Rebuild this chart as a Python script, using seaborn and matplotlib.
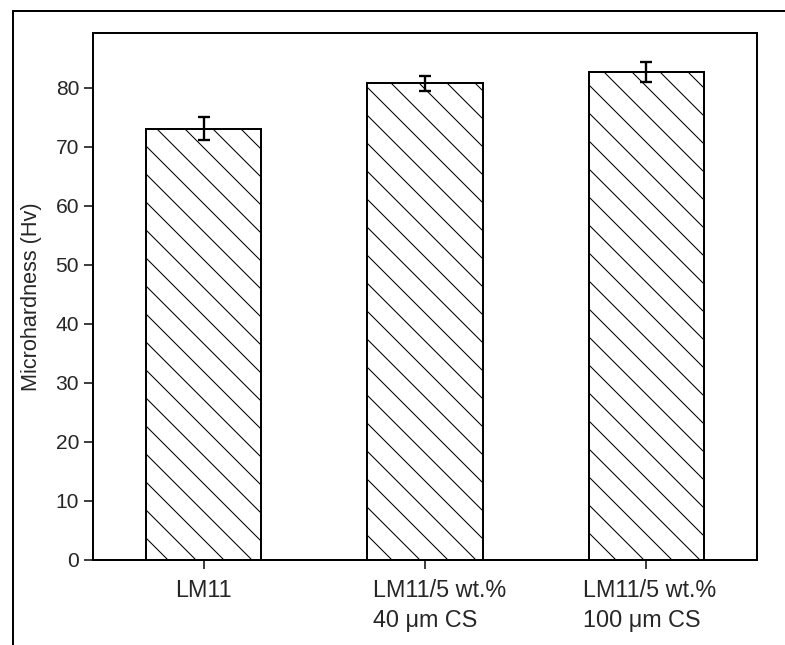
import pandas as pd
import matplotlib.pyplot as plt
import seaborn as sns
from matplotlib.transforms import ScaledTranslation
from matplotlib.lines import Line2D

# data
samples = ['LM11', 'LM11/5 wt.%\n40 \u03bcm CS', 'LM11/5 wt.%\n100 \u03bcm CS']
hardness = [73.1, 80.8, 82.7]
hardness_err = [2.0, 1.3, 1.7]

df = pd.DataFrame({'Sample': samples, 'Hardness': hardness, 'Err': hardness_err})

DPI = 84
sns.set_style('ticks')
plt.rcParams['font.family'] = ['Liberation Sans', 'DejaVu Sans']
plt.rcParams['hatch.linewidth'] = 0.9

fig = plt.figure(figsize=(785 / DPI, 645 / DPI), dpi=DPI)
ax = fig.add_axes([0.1185, 0.1318, 0.8458, 0.817])

sns.barplot(data=df, x='Sample', y='Hardness', ax=ax, color='white', saturation=1,
            edgecolor='black', linewidth=1.7, width=0.52, hatch='\\', errorbar=None)
ax.errorbar(range(len(samples)), df['Hardness'], yerr=df['Err'], fmt='none',
            ecolor='black', elinewidth=2, capsize=5.5, capthick=2, zorder=5)

ax.set_xlim(-0.5, 2.5)
ax.set_ylim(0, 89.3)
ax.set_yticks(range(0, 81, 10))
ax.set_xlabel('')
ax.set_ylabel('Microhardness (Hv)', fontsize=18.5, labelpad=12)

for s in ax.spines.values():
    s.set_linewidth(1.7)
    s.set_color('black')
ax.tick_params(axis='y', direction='out', length=8, width=1.5, labelsize=18, pad=4,
               right=False)
ax.tick_params(axis='x', direction='out', length=8, width=1.5, labelsize=20, pad=8,
               top=False)
offsets = [0, 15, 3]
for lbl, dx in zip(ax.get_xticklabels(), offsets):
    lbl.set_multialignment('left')
    lbl.set_linespacing(1.4)
    lbl.set_transform(lbl.get_transform() + ScaledTranslation(dx / DPI, 0, fig.dpi_scale_trans))

# outer frame (top and left edges visible)
fig.add_artist(Line2D([13 / 785, 1.0], [1 - 11 / 645, 1 - 11 / 645], color='black', lw=1.7,
                      transform=fig.transFigure))
fig.add_artist(Line2D([13 / 785, 13 / 785], [0, 1 - 11 / 645], color='black', lw=1.7,
                      transform=fig.transFigure))

fig.savefig('out.png', dpi=DPI)
